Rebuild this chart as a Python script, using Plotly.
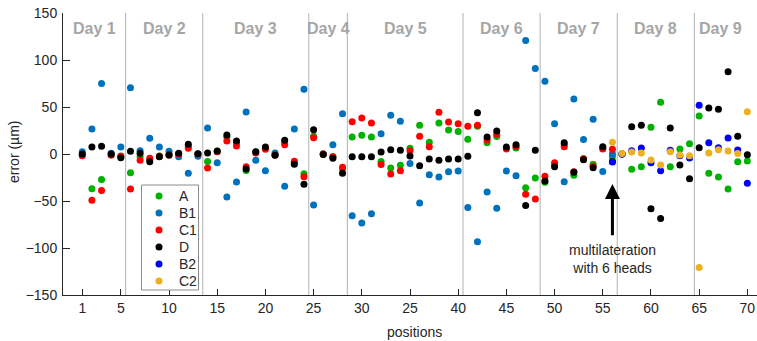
import plotly.graph_objects as go

positions = list(range(1, 71))

A = [-1, -37, -27, -1, -3, -20, -3, -6, -2, -1, 0, 8, 0, -8, 3, 18, 12, -17.5, 2, 6,
     -1, 12, -9, -21, 19, 0, -3, -16, 18, 20, 18, -8, -15, -12, 6, 30.5, 12.4, 33, 25.6, 24,
     15.6, 29.5, 12, 18.5, 6.5, 6.4, -36, -25.6, -30, -11, 10, -22.7, -5, -11, 6, -3, 0, -16.3, -13.5, 28.5,
     55, -13.5, 5.3, 11, 40.5, -20.6, -24.5, -37.3, -8.2, -7.5]

B1 = [2.4, 26.6, 75, 0.7, 7.5, 70.6, 3.5, 16.7, 7.5, 3, -3, -20.6, -2.5, 27.7, -9.2, -45.8, -29.8, 44.7, -6.7, -17.7,
      1, -34.4, 26.6, 68.9, -54.3, 0, 9.9, 42.9, -65.7, -73.5, -63.6, 21.6, 41.2, 34.8, -10, -52.2, -22, -24.5, -18.8, -18.1,
      -56.8, -93.4, -40.5, -57.8, -18.1, -23.1, 120.7, 90.9, 77.4, 32.3, -29.5, 58.6, 15.3, 36.9, -18.5, 0] + [None] * 14

C1 = [-1.8, -49.3, -38.7, -1, -2, -37.3, -6.7, -4.5, -2.5, -1, 0, 6, 0, -14.9, 2.5, 13.8, 8.5, -13.5, 1, 5,
      -1, 9.9, -7.8, -24.1, 17.4, 0, -2.8, -14.2, 34.4, 38.3, 33, -11.3, -21.3, -17.7, 3.5, 18.8, 7.8, 44.4, 34.1, 32.3,
      29.5, 30.5, 14.9, 21, 5.3, 7.8, -42.9, -47.9, -23.8, -9.2, 7.8, -18.8, -5, -13, 5.3, 5] + [None] * 14

D = [0, 7.5, 8.2, 0, -3.9, 2.8, 0.7, -8.2, -2.8, -1, 0.7, 10.3, 0.3, 1, 3.2, 20.2, 13.8, -16, 2.5, 7.5,
     -1.4, 14.6, -11, -32.3, 25.9, -0.4, -4.6, -20.6, -2.8, -2.8, -2.8, 2.1, 4.6, 3.9, -2.1, -12.4, -5.3, -6.7, -5.3, -5.3,
     -2.5, 44, 18.1, 24.5, 7.5, 9.9, -54.7, 3.9, -28.8, -13.5, 12, -19.5, -6, -14.5, 7.8, -8, 0, 29.1, 30.5, -58.2,
     -68.5, 27.7, -11.7, -26.3, 6.7, 49, 47.6, 87.6, 18.8, -0.7]

B2 = [None] * 55 + [-8.5, 0, 3.5, 6.4, -9.2, -17.7, 3.9, -1.8, -4.3, 51.8, 12, 6.7, 17, 4.3, -31.2]
C2 = [None] * 55 + [12.4, 0.4, 2.1, 1, -6.4, -11.7, 2.5, -1, -1.8, -120.7, 1, 4.6, 3.2, 0.4, 45]

series_names = ["A", "B1", "C1", "D", "B2", "C2"]
series_values = [A, B1, C1, D, B2, C2]
series_colors = ["rgb(0,178,0)", "#0072BD", "#FF0000", "#000000", "#0000FF", "#EDB120"]

day_bounds = [5.5, 13.5, 24.5, 28.5, 40.5, 48.5, 56.5, 64.5]
day_labels = ["Day 1", "Day 2", "Day 3", "Day 4", "Day 5", "Day 6", "Day 7", "Day 8", "Day 9"]
day_centers = [2.25, 9.5, 19, 26.5, 34.5, 44.5, 52.5, 60.5, 67.25]

xtick_vals = [1, 5, 10, 15, 20, 25, 30, 35, 40, 45, 50, 55, 60, 65, 70]
xtick_text = ["1", "5", "10", "15", "20", "25", "30", "25", "40", "45", "50", "55", "60", "65", "70"]
ytick_vals = [-150, -100, -50, 0, 50, 100, 150]

FONT = "Arial, Liberation Sans, sans-serif"
TXT = "#262626"

W, H = 757, 341
ML, MR, MT, MB = 63, 0, 13, 46
PW, PH = W - ML - MR, H - MT - MB


def px(sx):  # pixel x -> paper x
    return (sx - ML) / PW


def py(sy):  # pixel y -> paper y
    return (H - MB - sy) / PH


fig = go.Figure()
for name, vals, col in zip(series_names, series_values, series_colors):
    fig.add_trace(go.Scatter(x=positions, y=vals, mode="markers", name=name, showlegend=False,
                             marker=dict(size=7, color=col, line=dict(width=0))))

shapes = []
for b in day_bounds:
    shapes.append(dict(type="line", xref="x", yref="paper", x0=b, x1=b, y0=0, y1=1,
                       line=dict(color="#b3b3b3", width=1), layer="below"))

annotations = []
for lbl, c in zip(day_labels, day_centers):
    annotations.append(dict(x=c, y=134, xref="x", yref="y", text="<b>" + lbl + "</b>", showarrow=False,
                            xanchor="center", yanchor="middle",
                            font=dict(family=FONT, size=16, color="#a6a6a6")))

# legend box (drawn manually to match the compact row spacing)
shapes.append(dict(type="rect", xref="paper", yref="paper", x0=px(141.5), x1=px(198.5), y0=py(290), y1=py(185),
                   fillcolor="white", line=dict(color="#8c8c8c", width=1), layer="above"))
row_y = [196, 213, 230, 247, 264, 281]
for name, col, ry in zip(series_names, series_colors, row_y):
    shapes.append(dict(type="circle", xref="paper", yref="paper", xsizemode="pixel", ysizemode="pixel",
                       xanchor=px(159), yanchor=py(ry), x0=-3.5, x1=3.5, y0=-3.5, y1=3.5,
                       fillcolor=col, line=dict(width=0), layer="above"))
    annotations.append(dict(x=px(177), y=py(ry), xref="paper", yref="paper", text=name, showarrow=False,
                            xanchor="left", yanchor="middle", font=dict(family=FONT, size=14, color=TXT)))

annotations.append(dict(x=56, y=-32, xref="x", yref="y", ax=56, ay=-88, axref="x", ayref="y",
                        text="", showarrow=True, arrowhead=2, arrowsize=1, arrowwidth=3, arrowcolor="black"))
annotations.append(dict(x=56, y=-112, xref="x", yref="y", text="multilateration<br>with 6 heads",
                        showarrow=False, xanchor="center", yanchor="middle",
                        font=dict(family=FONT, size=14, color=TXT)))
annotations.append(dict(x=px(14), y=py(152), xref="paper", yref="paper", text="error (µm)", textangle=-90,
                        showarrow=False, xanchor="center", yanchor="middle",
                        font=dict(family=FONT, size=14, color=TXT)))
annotations.append(dict(x=px(414), y=py(332), xref="paper", yref="paper", text="positions",
                        showarrow=False, xanchor="center", yanchor="middle",
                        font=dict(family=FONT, size=14, color=TXT)))

fig.update_layout(
    width=W, height=H,
    margin=dict(l=ML, r=MR, t=MT, b=MB, autoexpand=False),
    paper_bgcolor="white", plot_bgcolor="white",
    font=dict(family=FONT, size=14, color=TXT),
    shapes=shapes, annotations=annotations,
    showlegend=False,
    xaxis=dict(range=[-1, 71], tickvals=xtick_vals, ticktext=xtick_text, ticks="inside", ticklen=6,
               showline=True, linecolor=TXT, linewidth=1, tickcolor=TXT, ticklabelstandoff=0,
               showgrid=False, zeroline=False, tickfont=dict(size=14), automargin=False),
    yaxis=dict(range=[-150, 150], tickvals=ytick_vals, ticks="inside", ticklen=7,
               showline=True, linecolor=TXT, linewidth=1, tickcolor=TXT, ticklabelstandoff=2,
               showgrid=False, zeroline=False, tickfont=dict(size=14), automargin=False),
)

fig.write_html("out.html", config={"displayModeBar": False},
               post_script="document.body.style.margin='0';document.documentElement.style.overflow='hidden';")
